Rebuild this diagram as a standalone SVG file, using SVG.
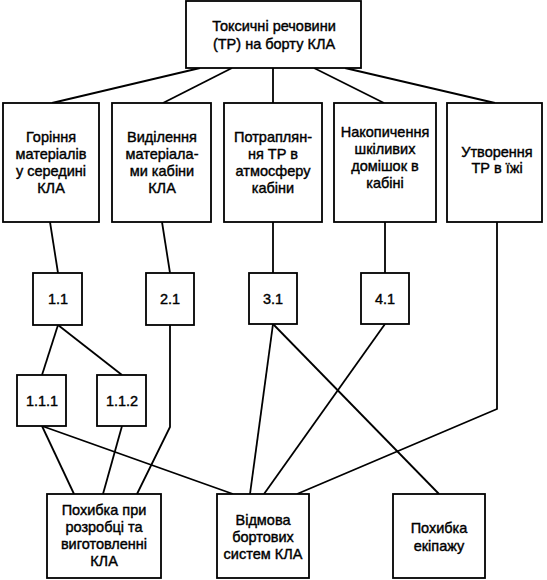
<svg xmlns="http://www.w3.org/2000/svg" width="547" height="580" viewBox="0 0 547 580">
<style>
rect{fill:#fff;stroke:#000;stroke-width:1.8}
.c line,.c polyline{stroke:#000;stroke-width:1.8;fill:none}
text{font-family:"Liberation Sans",Arial,sans-serif;font-size:14.5px;fill:#000;stroke:#000;stroke-width:0.4;text-anchor:middle}
</style>
<rect x="0" y="0" width="547" height="580" style="fill:#fff;stroke:none"/>
<g class="c" id="connectors">
<line x1="200" y1="68" x2="52" y2="103"/>
<line x1="232" y1="68" x2="163" y2="103"/>
<line x1="273" y1="68" x2="273" y2="103"/>
<line x1="314" y1="68" x2="384" y2="103"/>
<line x1="345" y1="68" x2="495" y2="103"/>
<line x1="50" y1="222" x2="58" y2="273"/>
<line x1="162" y1="222" x2="170" y2="273"/>
<line x1="273" y1="222" x2="273" y2="273"/>
<line x1="385" y1="222" x2="385" y2="273"/>
<polyline points="497,222 497,409 297,494"/>
<line x1="58" y1="325" x2="42" y2="375"/>
<line x1="58" y1="325" x2="122" y2="375"/>
<polyline points="170,325 170,427 137,494"/>
<line x1="42" y1="426" x2="74" y2="494"/>
<line x1="42" y1="426" x2="233" y2="494"/>
<line x1="122" y1="426" x2="103" y2="494"/>
<line x1="273" y1="324" x2="250" y2="494"/>
<line x1="273" y1="324" x2="439" y2="494"/>
<line x1="385" y1="324" x2="264" y2="494"/>
</g>
<g id="n0"><rect x="186" y="1" width="175" height="67"/><text x="274" y="31">Токсичні речовини</text><text x="274" y="49">(ТР) на борту КЛА</text></g>
<g id="n1"><rect x="3" y="103" width="96" height="119"/><text x="51" y="142">Горіння</text><text x="51" y="159">матеріалів</text><text x="51" y="176">у середині</text><text x="51" y="193">КЛА</text></g>
<g id="n2"><rect x="112" y="103" width="99" height="119"/><text x="162" y="142">Виділення</text><text x="162" y="159">матеріала-</text><text x="162" y="176">ми кабіни</text><text x="162" y="193">КЛА</text></g>
<g id="n3"><rect x="224" y="103" width="98" height="119"/><text x="273" y="142">Потраплян-</text><text x="273" y="159">ня ТР в</text><text x="273" y="176">атмосферу</text><text x="273" y="193">кабіни</text></g>
<g id="n4"><rect x="334" y="103" width="102" height="119"/><text x="385" y="137">Накопичення</text><text x="385" y="154">шкіливих</text><text x="385" y="171">домішок в</text><text x="385" y="188">кабіні</text></g>
<g id="n5"><rect x="447" y="103" width="95" height="119"/><text x="497" y="157">Утворення</text><text x="497" y="173">ТР в їжі</text></g>
<g id="n11"><rect x="33" y="273" width="49" height="52"/><text x="58" y="304">1.1</text></g>
<g id="n21"><rect x="146" y="273" width="48" height="52"/><text x="170" y="304">2.1</text></g>
<g id="n31"><rect x="249" y="273" width="48" height="51"/><text x="273" y="304">3.1</text></g>
<g id="n41"><rect x="361" y="273" width="48" height="51"/><text x="385" y="304">4.1</text></g>
<g id="n111"><rect x="17" y="375" width="49" height="51"/><text x="42" y="406">1.1.1</text></g>
<g id="n112"><rect x="97" y="375" width="49" height="51"/><text x="122" y="406">1.1.2</text></g>
<g id="b1"><rect x="47" y="494" width="114" height="84"/><text x="104" y="515">Похибка при</text><text x="104" y="532">розробці та</text><text x="104" y="549">виготовленні</text><text x="104" y="566">КЛА</text></g>
<g id="b2"><rect x="217" y="494" width="92" height="84"/><text x="263" y="525">Відмова</text><text x="263" y="542">бортових</text><text x="263" y="559">систем КЛА</text></g>
<g id="b3"><rect x="393" y="494" width="92" height="84"/><text x="439" y="533">Похибка</text><text x="439" y="551">екіпажу</text></g>
</svg>
